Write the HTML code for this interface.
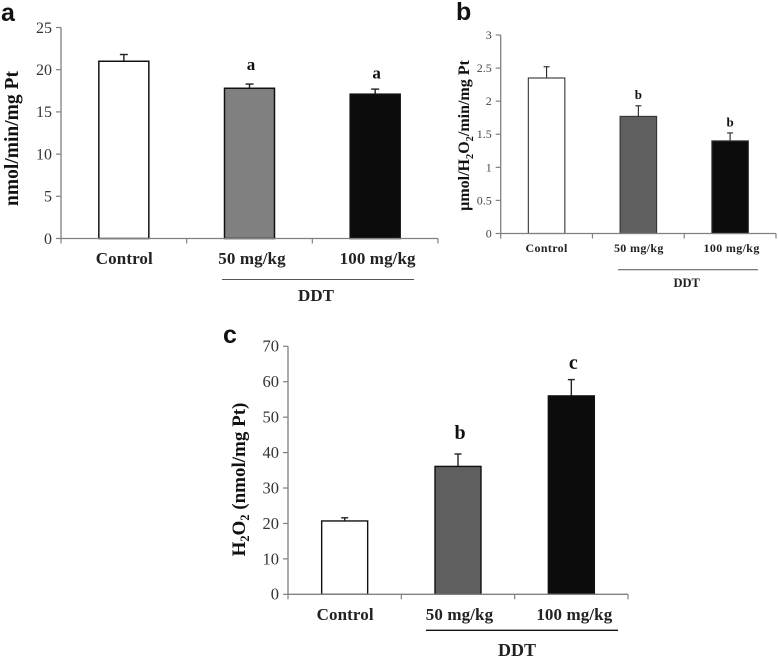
<!DOCTYPE html>
<html lang="en">
<head>
<meta charset="utf-8">
<title>DDT bar charts</title>
<style>
html,body{margin:0;padding:0;background:#fff;}
svg{display:block;filter:blur(0.3px);}
text{font-family:"Liberation Serif",serif;}
</style>
</head>
<body>
<svg id="figure" width="778" height="658" viewBox="0 0 778 658" xmlns="http://www.w3.org/2000/svg"></svg>
<script>
const categories = ["Control", "50 mg/kg", "100 mg/kg"];

const aTicks = [0, 5, 10, 15, 20, 25];
const aValues = [21, 17.8, 17.1];
const aErrorTops = [21.8, 18.3, 17.7];
const aMarks = ["", "a", "a"];

const bTicks = [0, 0.5, 1, 1.5, 2, 2.5, 3];
const bValues = [2.35, 1.77, 1.4];
const bErrorTops = [2.52, 1.93, 1.52];
const bMarks = ["", "b", "b"];

const cTicks = [0, 10, 20, 30, 40, 50, 60, 70];
const cValues = [20.7, 36.1, 56];
const cErrorTops = [21.6, 39.6, 60.6];
const cMarks = ["", "b", "c"];

const NS = "http://www.w3.org/2000/svg";
const fig = document.getElementById("figure");

function make(tag, parent, props, content) {
  const el = document.createElementNS(NS, tag);
  for (const k in props) el.setAttribute(k, props[k]);
  if (content !== undefined) el.textContent = content;
  parent.appendChild(el);
  return el;
}

function drawPanel(p, ticks, values, errs, marks) {
  const g = make("g", fig, {});
  
  

  const yScale = v => p.y0 - (v / ticks[ticks.length - 1]) * (p.y0 - p.yTop);
  const band = (p.xEnd - p.x0) / categories.length;
  const xCenter = i => p.x0 + band * (i + 0.5);

  const letter = make("text", g, {x: p.letterX, y: p.letterY, "font-size": 25, "font-weight": "bold", style: 'font-family:"Liberation Sans",sans-serif', fill: "#111"}, p.id);
  
  

  const yAxis = make("line", g, {x1: p.x0, x2: p.x0, y1: p.yTop, y2: p.y0, stroke: "#808080", "stroke-width": 1.3});
  
  

  ticks.forEach(t => {
    const y = yScale(t);
    const tm = make("line", g, {x1: p.x0 - 5, x2: p.x0, y1: y, y2: y, stroke: "#808080", "stroke-width": 1.2});
    
    
    const tl = make("text", g, {x: p.x0 - p.tickGap, y: y + p.tickSize * 0.33, "text-anchor": "end", "font-size": p.tickSize, fill: p.tickColor}, String(t));
    
    
  });

  categories.forEach((c, i) => {
    const cx = xCenter(i);
    const top = yScale(values[i]);
    const errTop = yScale(errs[i]);

    const errLine = make("line", g, {x1: cx, x2: cx, y1: errTop, y2: top, stroke: "#222", "stroke-width": p.errWidth});
    
    
    const errCap = make("line", g, {x1: cx - p.capHalf, x2: cx + p.capHalf, y1: errTop, y2: errTop, stroke: "#222", "stroke-width": p.errWidth});
    
    

    const bar = make("rect", g, {x: cx - p.barW / 2, y: top, width: p.barW, height: p.y0 - top, fill: p.fills[i], stroke: p.barStroke, "stroke-width": p.barStrokeW});
    
    

    const lab = make("text", g, {x: cx + p.labelDx[i], y: p.labelY, "text-anchor": "middle", "font-size": p.catSize, "font-weight": "bold", "letter-spacing": p.catSpacing, fill: "#222"}, c);
    
    

    if (marks[i]) {
      const m = make("text", g, {x: cx + p.markDx, y: errTop - p.markGaps[i], "text-anchor": "middle", "font-size": p.markSize, "font-weight": "bold", fill: "#111"}, marks[i]);
      
      
    }
  });

  const xAxis = make("line", g, {x1: p.x0, x2: p.xEnd, y1: p.y0, y2: p.y0, stroke: "#808080", "stroke-width": 1.3});
  
  
  for (let i = 0; i <= categories.length; i++) {
    const xt = p.x0 + band * i;
    const xm = make("line", g, {x1: xt, x2: xt, y1: p.y0, y2: p.y0 + 5, stroke: "#808080", "stroke-width": 1.2});
    
    
  }

  const bracket = make("line", g, {x1: p.lineX1, x2: p.lineX2, y1: p.lineY, y2: p.lineY, stroke: p.lineColor, "stroke-width": p.lineW});
  
  
  const ddt = make("text", g, {x: p.ddtX, y: p.ddtY, "text-anchor": "middle", "font-size": p.ddtSize, "font-weight": "bold", fill: "#222"}, "DDT");
  
  

  const title = make("text", g, {transform: "translate(" + p.titleX + "," + p.titleY + ") rotate(-90)", "font-size": p.titleSize, "font-weight": "bold", fill: "#111", "text-anchor": "middle", "xml:space": "preserve"});
  
  
  p.title.forEach(part => {
    const sp = make("tspan", title, part.sub ? {"font-size": p.titleSize * 0.65, dy: 4} : {dy: part.reset ? -4 : 0}, part.t);
    
    
  });
}

drawPanel({
  id: "a", letterX: 1, letterY: 21, x0: 61, xEnd: 438, yTop: 27.5, y0: 238.5,
  tickGap: 9, tickSize: 16, tickColor: "#333",
  barW: 50, barStroke: "#111", barStrokeW: 1.5, fills: ["#fff", "#808080", "#0c0c0c"],
  errWidth: 1.4, capHalf: 4, markDx: 1.5, markGaps: [0, 14, 10.5], markSize: 17,
  labelY: 264, labelDx: [0.5, 2.5, 2.5], catSize: 17, catSpacing: 0.1,
  lineX1: 222, lineX2: 414, lineY: 279.5, lineColor: "#555", lineW: 1,
  ddtX: 316, ddtY: 301, ddtSize: 17,
  titleX: 18, titleY: 138.5, titleSize: 19.5,
  title: [{t: "nmol/min/mg Pt"}]
}, aTicks, aValues, aErrorTops, aMarks);

drawPanel({
  id: "b", letterX: 456, letterY: 20, x0: 500.7, xEnd: 776, yTop: 35, y0: 233.5,
  tickGap: 9, tickSize: 12, tickColor: "#444",
  barW: 36.5, barStroke: "#333", barStrokeW: 1.1, fills: ["#fff", "#5f5f5f", "#0c0c0c"],
  errWidth: 1.1, capHalf: 3, markDx: 0, markGaps: [0, 7, 6.5], markSize: 13,
  labelY: 252, labelDx: [0, 0.5, 1.5], catSize: 12, catSpacing: 0.35,
  lineX1: 618, lineX2: 758, lineY: 269.7, lineColor: "#555", lineW: 1,
  ddtX: 686.7, ddtY: 287, ddtSize: 12.5,
  titleX: 469, titleY: 135.5, titleSize: 16,
  title: [{t: "\u00b5mol/H"}, {t: "2", sub: true}, {t: "O", reset: true}, {t: "2", sub: true}, {t: "/min/mg  Pt", reset: true}]
}, bTicks, bValues, bErrorTops, bMarks);

drawPanel({
  id: "c", letterX: 223, letterY: 343, x0: 288, xEnd: 628, yTop: 346.3, y0: 594.3,
  tickGap: 9, tickSize: 16.5, tickColor: "#333",
  barW: 46, barStroke: "#111", barStrokeW: 1.4, fills: ["#fff", "#5f5f5f", "#0c0c0c"],
  errWidth: 1.4, capHalf: 3.5, markDx: 2, markGaps: [0, 15, 10.5], markSize: 20,
  labelY: 620, labelDx: [0.5, 1.5, 3], catSize: 17, catSpacing: 0.1,
  lineX1: 426, lineX2: 618, lineY: 630.3, lineColor: "#111", lineW: 1.4,
  ddtX: 517, ddtY: 656, ddtSize: 18,
  titleX: 245, titleY: 479.5, titleSize: 19,
  title: [{t: "H"}, {t: "2", sub: true}, {t: "O", reset: true}, {t: "2", sub: true}, {t: " (nmol/mg Pt)", reset: true}]
}, cTicks, cValues, cErrorTops, cMarks);
</script>
</body>
</html>
